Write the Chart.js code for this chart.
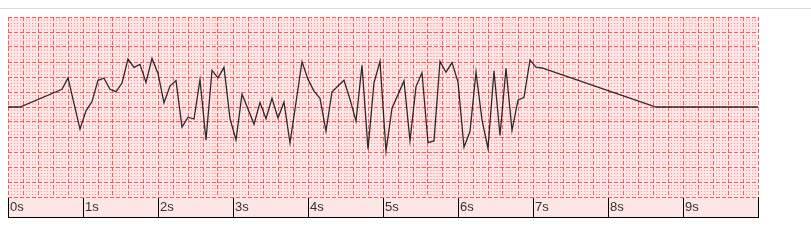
<!DOCTYPE html>
<html>
<head>
<meta charset="utf-8">
<script src="https://cdn.jsdelivr.net/npm/chart.js@4.4.1/dist/chart.umd.min.js"></script>
<style>
  html, body { margin: 0; padding: 0; background: #fff; }
  #wrap { position: relative; width: 811px; height: 250px; }
  #topline { position: absolute; left: 0; top: 8px; width: 811px; height: 1px; background: #dcdcdc; }
  #baseline { position: absolute; left: 8px; top: 217px; width: 751px; height: 1px; background: #000; }
  canvas { position: absolute; left: 0; top: 0; }
</style>
</head>
<body>
<div id="wrap">
  <div id="topline"></div>
  <canvas id="ecg" width="811" height="250"></canvas>
  <div id="baseline"></div>
</div>
<script>
// time (s) and amplitude (mV) of the trace vertices
const times = [0, 0.16, 0.72, 0.8, 0.96, 1.04, 1.12, 1.2, 1.28, 1.36, 1.44, 1.52, 1.6, 1.68, 1.76, 1.84, 1.92,
  2.0, 2.08, 2.16, 2.24, 2.32, 2.4, 2.48, 2.56, 2.64, 2.72, 2.8, 2.88, 2.96, 3.04, 3.12, 3.28, 3.36, 3.44,
  3.52, 3.6, 3.68, 3.76, 3.92, 4.0, 4.08, 4.16, 4.24, 4.32, 4.48, 4.56, 4.64, 4.72, 4.8, 4.88, 4.96, 5.04,
  5.12, 5.28, 5.36, 5.44, 5.52, 5.6, 5.68, 5.76, 5.84, 5.92, 6.0, 6.08, 6.16, 6.24, 6.32, 6.4, 6.48, 6.56,
  6.64, 6.72, 6.8, 6.88, 6.96, 7.04, 7.12, 8.64, 10.0];
const values = [0, 0, 0.59, 0.97, -0.74, -0.13, 0.18, 0.89, 0.96, 0.59, 0.51, 0.8, 1.6, 1.32, 1.42, 0.82, 1.62,
  1.12, 0.14, 0.7, 0.88, -0.67, -0.34, -0.4, 0.91, -1.1, 1.22, 0.97, 1.32, -0.39, -1.1, 0.43, -0.57, 0.15, -0.39,
  0.29, -0.37, 0.16, -1.2, 1.51, 0.92, 0.53, 0.29, -0.8, 0.51, 0.89, 0.26, -0.47, 1.39, -1.41, 0.81, 1.52, -1.47,
  -0.04, 0.87, -1.13, 0.68, 1.14, -1.19, -1.13, 1.52, 1.16, 1.48, 0.83, -1.34, -0.82, 1.16, -0.43, -1.38, 1.21, -0.95,
  1.29, -0.78, 0.23, 0.32, 1.57, 1.33, 1.3, 0, 0];
const secondTicks = [0, 1, 2, 3, 4, 5, 6, 7, 8, 9, 10];

const paper = '#ffe6e6';
const majorColor = 'rgb(255,90,90)';
const minorColor = 'rgba(255,120,120,0.45)';

// pink paper behind the plot
const paperBg = {
  id: 'paperBg',
  beforeDraw(chart) {
    const { ctx, chartArea: a } = chart;
    ctx.save();
    ctx.fillStyle = paper;
    ctx.fillRect(a.left, a.top, a.right - a.left, a.bottom - a.top);
    ctx.restore();
  }
};

// an invisible axis that only draws one layer of the paper grid
function gridAxis(axis, step, color, dash, z) {
  return {
    type: 'linear',
    position: axis === 'x' ? 'bottom' : 'left',
    weight: 5,
    min: axis === 'x' ? 0 : -3,
    max: axis === 'x' ? 10 : 3,
    ticks: { display: false, stepSize: step, autoSkip: false },
    grid: { color, lineWidth: 1, drawTicks: false, z },
    border: { display: false, dash },
    afterFit(s) { if (axis === 'x') s.height = 0; else s.width = 0; }
  };
}

new Chart(document.getElementById('ecg').getContext('2d'), {
  type: 'line',
  data: {
    datasets: [{
      data: times.map((t, i) => ({ x: t, y: values[i] })),
      borderColor: 'rgba(10,10,10,0.85)',
      borderWidth: 1.3,
      pointRadius: 0,
      tension: 0,
      fill: false
    }]
  },
  options: {
    responsive: false,
    animation: false,
    layout: { padding: { left: 8, right: 53, top: 17, bottom: 33 } },
    plugins: { legend: { display: false }, tooltip: { enabled: false } },
    scales: {
      x: {
        type: 'linear',
        position: 'bottom',
        weight: 0,
        min: 0,
        max: 10,
        backgroundColor: paper,
        afterBuildTicks(s) { s.ticks = secondTicks.map(v => ({ value: v })); },
        ticks: {
          autoSkip: false,
          maxRotation: 0,
          align: 'start',
          labelOffset: 2,
          padding: -17,
          color: '#333',
          font: { family: '"Liberation Sans", Arial, sans-serif', size: 13 },
          callback: v => (v === 10 ? '' : v + 's')
        },
        grid: { drawOnChartArea: false, drawTicks: true, tickLength: 20, tickColor: '#000', tickWidth: 1 },
        border: { display: false },
        afterFit(s) { s.height = 20; }
      },
      y: {
        type: 'linear',
        min: -3,
        max: 3,
        display: false
      },
      xMinor: gridAxis('x', 0.04, minorColor, [1, 2], -3),
      xMajor: gridAxis('x', 0.2, majorColor, [4, 2], -1),
      yMinor: gridAxis('y', 0.1, minorColor, [1, 2], -3),
      yMajor: gridAxis('y', 0.5, majorColor, [4, 2], -1)
    }
  },
  plugins: [paperBg]
});
</script>
</body>
</html>
